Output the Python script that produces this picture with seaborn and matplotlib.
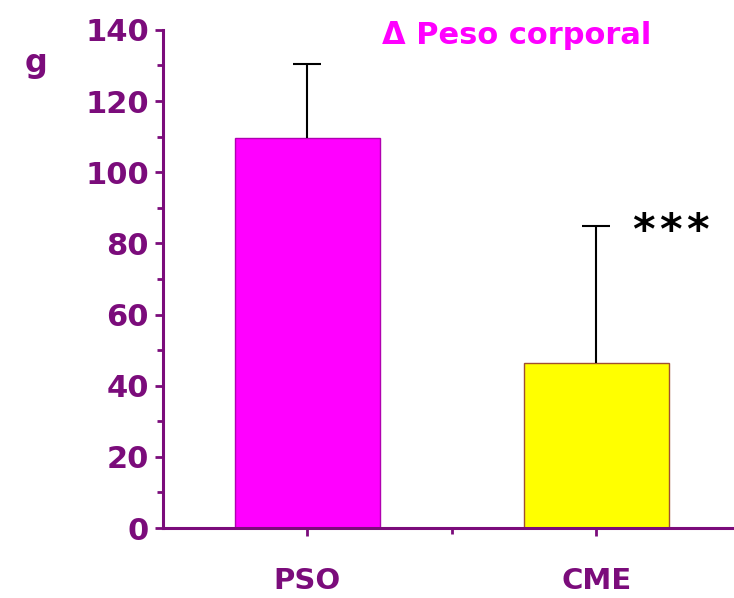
import matplotlib
matplotlib.use("Agg")
import matplotlib.pyplot as plt
from matplotlib.ticker import MultipleLocator, FixedLocator
import seaborn as sns
import pandas as pd

groups = ["PSO", "CME"]
means = [109.7, 46.4]
sd = [20.7, 38.5]
bar_colors = ["#ff00ff", "#ffff00"]
edge_colors = ["#b000b0", "#a05030"]

purple = "#7b0c7b"

sns.set_theme(style="white")
plt.rcParams["font.family"] = ["DejaVu Sans"]

df = pd.DataFrame({"grupo": groups, "delta": means})

fig = plt.figure(figsize=(7.34, 5.98), dpi=100)
ax = fig.add_axes([0.222, 0.117, 0.778, 0.833])

sns.barplot(data=df, x="grupo", y="delta", hue="grupo", palette=bar_colors,
            legend=False, width=0.5, saturation=1, ax=ax, errorbar=None)
for patch, ec in zip(ax.patches, edge_colors):
    patch.set_edgecolor(ec)
    patch.set_linewidth(1.0)

eb = ax.errorbar(range(len(groups)), means, yerr=[[0] * len(sd), sd],
                 fmt="none", ecolor="black", elinewidth=1.5, capsize=10,
                 capthick=1.5, zorder=1)
eb[1][0].set_visible(False)

ax.set_xlim(-0.5, 1.476)
ax.set_ylim(0, 140)
ax.set_xlabel("")
ax.set_ylabel("")

for side in ["top", "right"]:
    ax.spines[side].set_visible(False)
for side in ["left", "bottom"]:
    ax.spines[side].set_color(purple)
    ax.spines[side].set_linewidth(2.2)

ax.yaxis.set_major_locator(MultipleLocator(20))
ax.yaxis.set_minor_locator(MultipleLocator(10))
ax.xaxis.set_minor_locator(FixedLocator([0.5]))
ax.tick_params(axis="y", which="major", direction="out", length=6, width=2,
               color=purple, labelcolor=purple, labelsize=22, pad=4, left=True)
ax.tick_params(axis="y", which="minor", direction="out", length=4, width=2,
               color=purple, left=True)
ax.tick_params(axis="x", which="major", direction="out", length=6, width=2,
               color=purple, labelcolor=purple, labelsize=21, pad=22, bottom=True)
ax.tick_params(axis="x", which="minor", direction="out", length=4, width=2,
               color=purple, bottom=True)
for lab in ax.get_xticklabels() + ax.get_yticklabels():
    lab.set_fontweight("bold")

fig.text(0.033, 0.893, "g", color=purple, fontsize=23, fontweight="bold",
         ha="left", va="center")
fig.text(0.521, 0.941, "Δ Peso corporal", color="#ff00ff", fontsize=22,
         fontweight="bold", ha="left", va="center")

# significance marker: three evenly spaced asterisks beside the CME error bar
for k in range(3):
    ax.annotate("*", xy=(1.0, sd[1] + means[1]), xytext=(34 + k * 19.5, -4),
                textcoords="offset points", color="black", fontsize=31,
                fontweight="bold", ha="center", va="center")

fig.savefig("out.png", dpi=100)
